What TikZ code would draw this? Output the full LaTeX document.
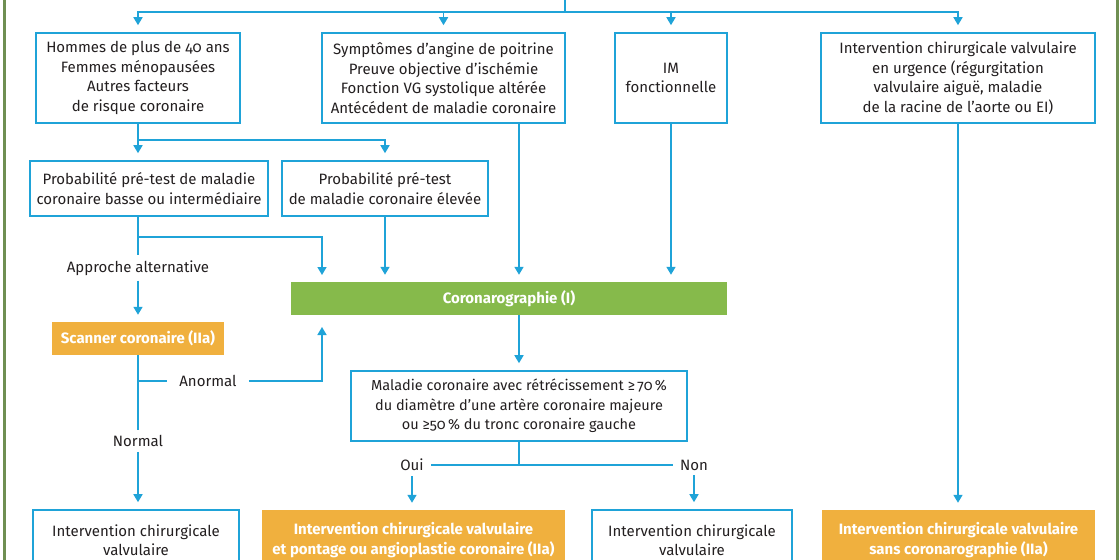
\documentclass[tikz,border=0pt]{standalone}
\usepackage{fontspec}
\setmainfont{Fira Sans}[Numbers=OldStyle]
\usetikzlibrary{arrows.meta}
\definecolor{cblue}{HTML}{1FA3D8}
\definecolor{cgreen}{HTML}{86BA4B}
\definecolor{corange}{HTML}{F0B03E}
\definecolor{cframe}{HTML}{6F8F52}
\definecolor{ctext}{HTML}{231F20}
\begin{document}
\begin{tikzpicture}[x=1pt,y=-1pt,
  font=\fontsize{15}{19.5}\selectfont,
  wbox/.style={draw=cblue,line width=1.6pt,fill=white,align=center,text=ctext,inner sep=0pt},
  obox/.style={fill=corange,align=center,text=white,font=\fontsize{15}{19.5}\selectfont\bfseries,inner sep=0pt},
  gbox/.style={fill=cgreen,align=center,text=white,font=\fontsize{15}{19.5}\selectfont\bfseries,inner sep=0pt},
  lbl/.style={text=ctext,inner xsep=7pt,inner ysep=5pt},
  ln/.style={draw=cblue,line width=1.6pt},
  arr/.style={ln,-{Triangle[width=9pt,length=8pt]},shorten >=7pt}
]
\useasboundingbox (0,0) rectangle (1120,560);
\clip (0,0) rectangle (1120,560);
\fill[white] (0,0) rectangle (1120,560);

% row 1
\node[wbox,minimum width=204pt,minimum height=90pt] (A) at (138,78) {Hommes de plus de 40 ans\\Femmes ménopausées\\Autres facteurs\\de risque coronaire};
\node[wbox,minimum width=243pt,minimum height=90pt] (B) at (443.5,78) {Symptômes d’angine de poitrine\\Preuve objective d’ischémie\\Fonction VG systolique altérée\\Antécédent de maladie coronaire};
\node[wbox,minimum width=112pt,minimum height=90pt] (C) at (671,78) {IM\\fonctionnelle};
\node[wbox,minimum width=274pt,minimum height=90pt] (D) at (958,78) {Intervention chirurgicale valvulaire\\en urgence (régurgitation\\valvulaire aiguë, maladie\\de la racine de l’aorte ou EI)};
% row 2
\node[wbox,minimum width=238pt,minimum height=55pt] (E) at (149,188.5) {Probabilité pré-test de maladie\\coronaire basse ou intermédiaire};
\node[wbox,minimum width=206pt,minimum height=55pt] (F) at (385,188.5) {Probabilité pré-test\\de maladie coronaire élevée};
% middle
\node[gbox,minimum width=436pt,minimum height=33pt] (Cor) at (509,298.5) {Coronarographie (I)};
\node[obox,minimum width=172pt,minimum height=33pt] (Scan) at (138,338.5) {Scanner coronaire (IIa)};
\node[wbox,minimum width=336pt,minimum height=70pt,font=\fontsize{14.5}{19.5}\selectfont] (G) at (519,406) {Maladie coronaire avec rétrécissement ≥\,70\,\%\\du diamètre d’une artère coronaire majeure\\ou ≥50\,\% du tronc coronaire gauche};
% bottom
\node[wbox,minimum width=206pt,minimum height=60pt] (H) at (136,540) {Intervention chirurgicale\\valvulaire};
\node[obox,minimum width=303pt,minimum height=60pt] (I) at (413.5,540) {Intervention chirurgicale valvulaire\\et pontage ou angioplastie coronaire (IIa)};
\node[wbox,minimum width=200pt,minimum height=60pt] (J) at (692,540) {Intervention chirurgicale\\valvulaire};
\node[obox,minimum width=273pt,minimum height=60pt] (K) at (958.5,540) {Intervention chirurgicale valvulaire\\sans coronarographie (IIa)};
% labels
\node[lbl] (alt) at (138,268) {Approche alternative};
\node[lbl,inner xsep=12pt] (anorm) at (208,381) {Anormal};
\node[lbl] (norm) at (138,441) {Normal};
\node[lbl] (oui) at (412,465) {Oui};
\node[lbl] (non) at (694,465) {Non};

% coordinates
\coordinate (src) at (565,0);
\coordinate (bus) at (565,12);
\coordinate (j1) at (138,140);
\coordinate (j2) at (138,237);
\coordinate (cin1) at (322,282);
\coordinate (j4) at (138,381);
\coordinate (cin2) at (322,315);
\coordinate (j3) at (519,465);

% connectors
\draw[ln] (src) -- (bus);
\draw[arr] (bus) -| (A.north);
\draw[arr] (bus) -| (B.north);
\draw[arr] (bus) -| (C.north);
\draw[arr] (bus) -| (D.north);
\draw[ln] (A.south) -- (j1);
\draw[arr] (j1) -- (j1 |- E.north);
\draw[arr] (j1) -| (F.north);
\draw[ln] (j2 |- E.south) -- (j2) -- (alt);
\draw[arr] (j2) -| (cin1);
\draw[arr] (alt) -- (Scan);
\draw[arr] (F.south) -- (F.south |- Cor.north);
\draw[arr] (B.south -| G.north) -- (G.north |- Cor.north);
\draw[arr] (C.south) -- (C.south |- Cor.north);
\draw[arr] (D.south) -- (D.south |- K.north);
\draw[arr] (Cor.south -| G.north) -- (G.north);
\draw[ln] (G.south) -- (j3);
\draw[ln] (j3) -- (oui);
\draw[ln] (j3) -- (non);
\draw[arr] (oui) -- (oui |- I.north);
\draw[arr] (non) -- (non |- J.north);
\draw[ln] (Scan) -- (norm);
\draw[ln] (j4) -- (anorm);
\draw[arr,shorten >=12pt] (anorm) -| (cin2);
\draw[arr] (norm) -- (norm |- H.north);

% frame
\draw[cframe,line width=3pt] (4,0) -- (4,560);
\draw[cframe,line width=3pt] (1117,0) -- (1117,560);
\end{tikzpicture}
\end{document}
